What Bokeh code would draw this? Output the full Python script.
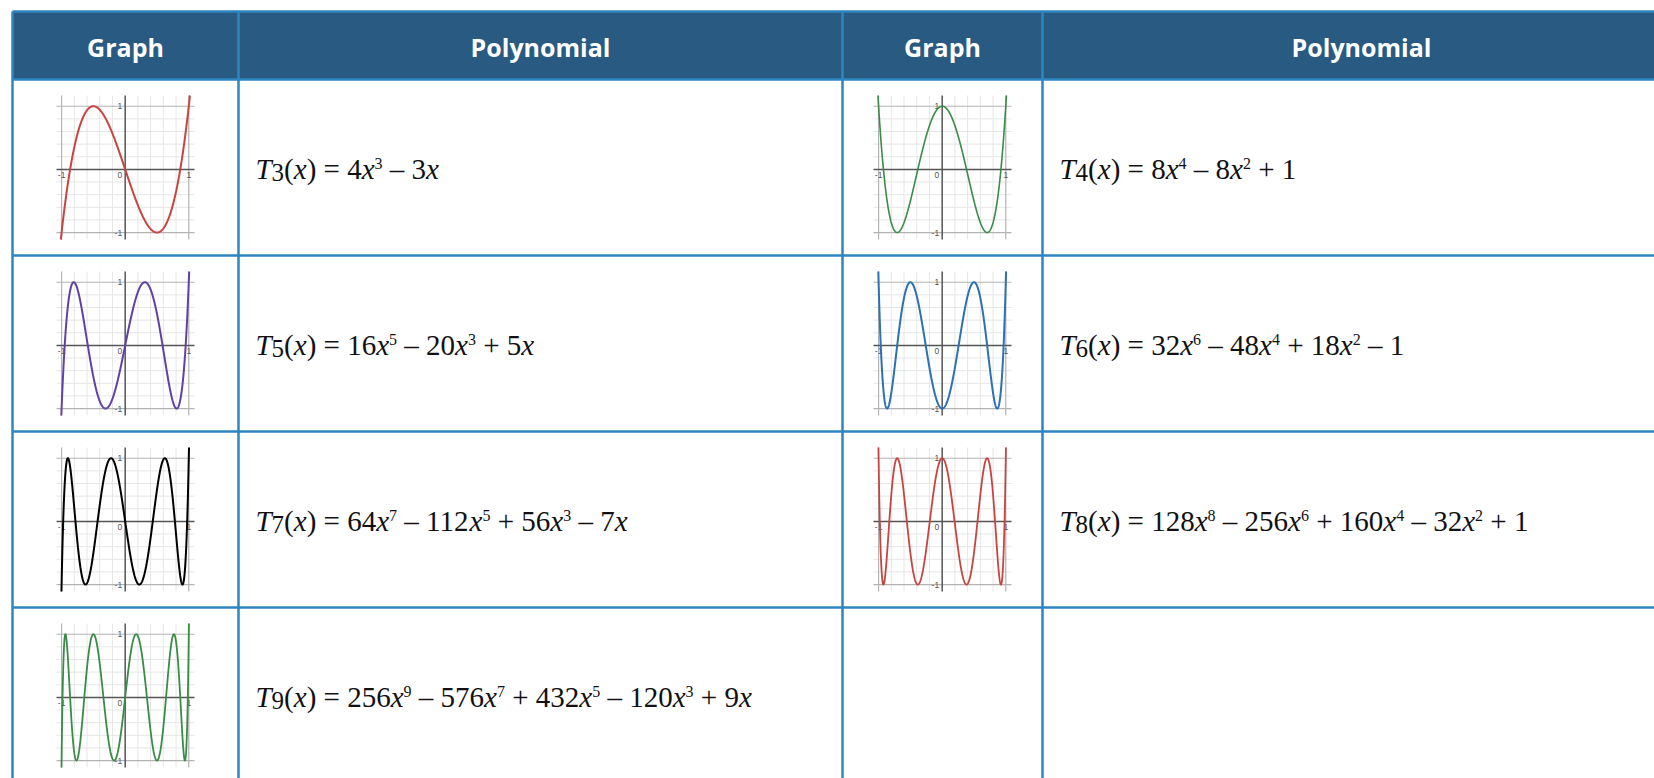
import numpy as np
from bokeh.plotting import figure
from bokeh.models import Range1d
from bokeh.core.properties import value
from bokeh.embed import file_html
from bokeh.resources import INLINE

# ---------------- data ----------------
headers = ["Graph", "Polynomial", "Graph", "Polynomial"]
degrees = [3, 4, 5, 6, 7, 8, 9]
coef_t3 = [4, 0, -3, 0]
coef_t4 = [8, 0, -8, 0, 1]
coef_t5 = [16, 0, -20, 0, 5, 0]
coef_t6 = [32, 0, -48, 0, 18, 0, -1]
coef_t7 = [64, 0, -112, 0, 56, 0, -7, 0]
coef_t8 = [128, 0, -256, 0, 160, 0, -32, 0, 1]
coef_t9 = [256, 0, -576, 0, 432, 0, -120, 0, 9, 0]
coefficients = [coef_t3, coef_t4, coef_t5, coef_t6, coef_t7, coef_t8, coef_t9]
curve_colors = ["#c74440", "#388c46", "#6042a6", "#2d70b3", "#000000", "#c74440", "#388c46"]
curve_widths = [2.0, 1.6, 2.0, 2.0, 2.0, 1.8, 1.8]
grid_values = [-1.0, -0.8, -0.6, -0.4, -0.2, 0.0, 0.2, 0.4, 0.6, 0.8, 1.0]
major_values = [-1.0, 1.0]
x_tick_values = [-1, 1]
x_tick_labels = ["-1", "1"]
y_tick_values = [-1, 1]
y_tick_labels = ["-1", "1"]
view_x = (-1.08, 1.09)
view_y = (-1.11, 1.17)

# ---------------- layout ----------------
W, H = 1654, 778
col_edges = [12, 238, 842, 1042]
row_edges = [11, 79, 255, 431, 607]
row_h = 176
header_fill = "#285a82"
border_color = "#2e86c1"
box_w, box_h = 138, 144
F_MAIN, F_SUB, F_SUP = 29, 25, 16

p = figure(width=W, height=H, x_range=Range1d(0, W), y_range=Range1d(H, 0),
           output_backend="svg", toolbar_location=None, min_border=0)
p.axis.visible = False
p.grid.visible = False
p.outline_line_color = None
p.background_fill_color = "white"
p.border_fill_color = "white"

# header band
p.quad(left=[col_edges[0]], right=[W + 2], top=[row_edges[0]], bottom=[row_edges[1]],
       fill_color=header_fill, line_color=None)

col_right = col_edges[1:] + [1680]
col_centers = [(a + b) / 2 for a, b in zip(col_edges, col_right)]
p.text(x=col_centers, y=[46] * 4, text=headers, text_font=value("Open Sans"),
       text_font_style="bold", text_font_size="25px", text_color="white",
       text_align="center", text_baseline="middle")

# borders
row_lines = row_edges + [row_edges[-1] + row_h]
p.segment(x0=[col_edges[0]] * len(row_lines), x1=[W + 2] * len(row_lines),
          y0=row_lines, y1=row_lines, line_color=border_color, line_width=2.5)
p.segment(x0=col_edges, x1=col_edges, y0=[row_edges[0]] * 4, y1=[H + 2] * 4,
          line_color=border_color, line_width=2.5)

# ---------------- formulas ----------------
ROMAN_W = {"(": 0.333, ")": 0.333, "=": 0.564, "+": 0.564, "\u2013": 0.5}
ITALIC_W = {"T": 0.556, "x": 0.444}
SIZES = {"i": F_MAIN, "r": F_MAIN, "sub": F_SUB, "sup": F_SUP}
SHIFT = {"i": 0, "r": 0, "sub": 3, "sup": -6}


def run_width(txt, kind):
    table = ITALIC_W if kind == "i" else ROMAN_W
    return sum(table.get(c, 0.5) for c in txt) * SIZES[kind]


def formula_tokens(n, coefs):
    toks = [("T", "i"), (str(n), "sub"), ("(", "r"), ("x", "i"), (")", "r"),
            (" ", "sp"), ("=", "r"), (" ", "sp")]
    deg = len(coefs) - 1
    first = True
    for i, c in enumerate(coefs):
        if c == 0:
            continue
        k = deg - i
        if not first:
            toks += [(" ", "sp"), ("\u2013" if c < 0 else "+", "r"), (" ", "sp")]
        first = False
        if abs(c) != 1 or k == 0:
            toks.append((str(abs(c)), "r"))
        if k >= 1:
            toks.append(("x", "i"))
        if k >= 2:
            toks.append((str(k), "sup"))
    return toks


pieces = {k: ([], [], []) for k in SIZES}
for idx, (n, coefs) in enumerate(zip(degrees, coefficients)):
    r, pair = divmod(idx, 2)
    x = col_edges[1 + 2 * pair] + 17
    mid = row_edges[1 + r] + row_h / 2 + 1.5
    for txt, kind in formula_tokens(n, coefs):
        if kind == "sp":
            x += 0.25 * F_MAIN
            continue
        xs, ys, ts = pieces[kind]
        xs.append(x)
        ys.append(mid + SHIFT[kind])
        ts.append(txt)
        x += run_width(txt, kind)

for kind, (xs, ys, ts) in pieces.items():
    p.text(x=xs, y=ys, text=ts, text_font=value("Liberation Serif"),
           text_font_style="italic" if kind == "i" else "normal",
           text_font_size=f"{SIZES[kind]}px", text_color="#111111",
           text_align="left", text_baseline="middle")

# ---------------- small graphs ----------------
lo_y, hi_y = view_y
for idx, (n, coefs) in enumerate(zip(degrees, coefficients)):
    r, pair = divmod(idx, 2)
    cx = (col_edges[2 * pair] + col_edges[2 * pair + 1]) / 2
    cy = row_edges[1 + r] + row_h / 2
    sp = p.subplot(x_source=Range1d(*view_x), y_source=Range1d(*view_y),
                   x_target=Range1d(cx - box_w / 2, cx + box_w / 2),
                   y_target=Range1d(cy + box_h / 2, cy - box_h / 2))
    minor = [g for g in grid_values if g not in major_values and g != 0.0]
    sp.segment(x0=minor, x1=minor, y0=[lo_y] * len(minor), y1=[hi_y] * len(minor),
               line_color="#e6e6e6", line_width=1)
    sp.segment(x0=[view_x[0]] * len(minor), x1=[view_x[1]] * len(minor), y0=minor, y1=minor,
               line_color="#e6e6e6", line_width=1)
    sp.segment(x0=major_values, x1=major_values, y0=[lo_y] * 2, y1=[hi_y] * 2,
               line_color="#b3b3b3", line_width=1.2)
    sp.segment(x0=[view_x[0]] * 2, x1=[view_x[1]] * 2, y0=major_values, y1=major_values,
               line_color="#b3b3b3", line_width=1.2)
    sp.segment(x0=[0, view_x[0]], x1=[0, view_x[1]], y0=[lo_y, 0], y1=[hi_y, 0],
               line_color="#555555", line_width=1.5)
    sp.text(x=x_tick_values, y=[0, 0], text=x_tick_labels, text_font=value("Liberation Sans"),
            text_font_size="8.5px", text_color="#555555", text_align="center",
            text_baseline="top", y_offset=3)
    sp.text(x=[0, 0], y=y_tick_values, text=y_tick_labels, text_font=value("Liberation Sans"),
            text_font_size="8.5px", text_color="#555555", text_align="right",
            text_baseline="middle", x_offset=-3)
    sp.text(x=[0], y=[0], text=["0"], text_font=value("Liberation Sans"),
            text_font_size="8.5px", text_color="#555555", text_align="right",
            text_baseline="top", x_offset=-3, y_offset=3)
    xs = np.linspace(view_x[0], view_x[1], 6000)
    ys = np.polyval(coefs, xs)
    inside = (ys >= lo_y) & (ys <= hi_y)
    keep = inside | np.roll(inside, 1) | np.roll(inside, -1)
    ys = np.clip(ys, lo_y, hi_y)
    ys[~keep] = np.nan
    sp.line(x=xs, y=ys, line_color=curve_colors[idx], line_width=curve_widths[idx])

open("out.html", "w").write(file_html(p, INLINE))
